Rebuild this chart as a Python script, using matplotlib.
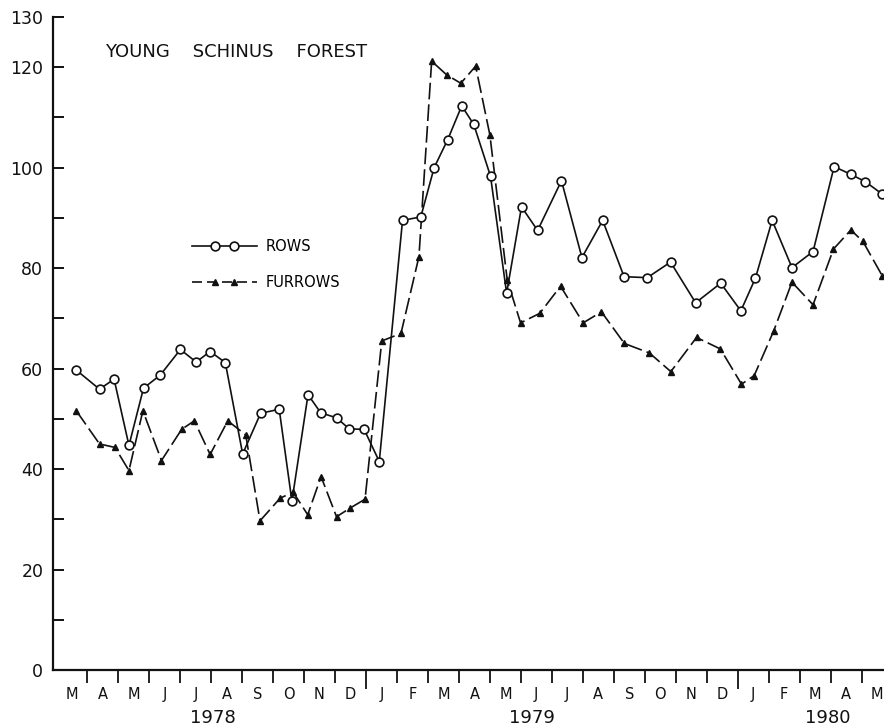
import numpy as np
import matplotlib
matplotlib.use("Agg")
import matplotlib.pyplot as plt
from matplotlib.lines import Line2D
from matplotlib.legend_handler import HandlerLine2D, HandlerTuple

# months counted from 1 March 1978 (0 = start of Mar 1978)
month_labels = ['M', 'A', 'M', 'J', 'J', 'A', 'S', 'O', 'N', 'D',
                'J', 'F', 'M', 'A', 'M', 'J', 'J', 'A', 'S', 'O', 'N', 'D',
                'J', 'F', 'M', 'A', 'M']
years = ['1978', '1979', '1980']
year_pos = [5.05, 15.35, 24.9]
jan_ticks = [10, 22]

rows_t = [0.65, 1.40, 1.87, 2.35, 2.82, 3.36, 4.01, 4.52, 4.97, 5.46,
          6.02, 6.60, 7.20, 7.61, 8.13, 8.54, 9.05, 9.46, 9.94, 10.43,
          11.18, 11.77, 12.20, 12.64, 13.09, 13.48, 14.02, 14.54, 15.02, 15.54,
          16.31, 16.97, 17.64, 18.33, 19.08, 19.83, 20.64, 21.45, 22.10, 22.57,
          23.11, 23.75, 24.43, 25.11, 25.64, 26.12, 26.67]
rows_v = [59.7, 55.9, 57.9, 44.7, 56.1, 58.7, 63.8, 61.3, 63.4, 61.2,
          43.0, 51.1, 51.9, 33.6, 54.8, 51.2, 50.2, 48.0, 47.9, 41.5,
          89.5, 90.2, 100.0, 105.6, 112.3, 108.6, 98.3, 75.0, 92.2, 87.5,
          97.4, 82.1, 89.5, 78.3, 78.1, 81.2, 73.1, 77.0, 71.5, 78.0,
          89.5, 80.1, 83.3, 100.2, 98.7, 97.2, 94.7]

furrows_t = [0.65, 1.40, 1.90, 2.35, 2.80, 3.40, 4.05, 4.46, 4.97, 5.54,
             6.12, 6.58, 7.23, 7.65, 8.12, 8.55, 9.05, 9.48, 9.97,
             10.51, 11.13, 11.71, 12.12, 12.60, 13.06, 13.54, 14.00, 14.56, 14.99,
             15.61, 16.28, 17.01, 17.60, 18.34, 19.15, 19.84, 20.67, 21.44, 22.12,
             22.53, 23.16, 23.75, 24.43, 25.09, 25.65, 26.04, 26.67]
furrows_v = [51.6, 45.0, 44.3, 39.7, 51.6, 41.7, 47.9, 49.6, 42.9, 49.6,
             46.8, 29.7, 34.2, 35.4, 30.9, 38.5, 30.5, 32.2, 34.0,
             65.5, 67.0, 82.3, 121.2, 118.5, 116.8, 120.2, 106.5, 77.6, 69.1,
             71.0, 76.4, 69.1, 71.3, 65.0, 63.1, 59.4, 66.2, 63.9, 56.9,
             58.6, 67.5, 77.2, 72.7, 83.8, 87.6, 85.3, 78.4]

ink = '#111111'
fig = plt.figure(figsize=(8.84, 7.28), dpi=100)
ax = fig.add_axes([0.06, 0.0797, 0.94, 0.897])

ax.plot(rows_t, rows_v, '-', color=ink, lw=1.2, marker='o', ms=6.3,
        mfc='white', mec=ink, mew=1.2, zorder=3)
ax.plot(furrows_t, furrows_v, color=ink, lw=1.2, dashes=(10, 3),
        marker='^', ms=5, mfc=ink, mec=ink, zorder=2)

ax.set_xlim(-0.1, 26.72)
ax.set_ylim(0, 130)

for side in ['top', 'right']:
    ax.spines[side].set_visible(False)
for side in ['left', 'bottom']:
    ax.spines[side].set_linewidth(1.6)
    ax.spines[side].set_color(ink)

# y axis: ticks every 10, inward
ax.set_yticks(np.arange(0, 131, 10))
ax.set_yticklabels(['0', '', '20', '', '40', '', '60', '', '80', '', '100', '', '120', '130'])
ax.tick_params(axis='y', direction='in', length=8, width=1.4, pad=7,
               labelsize=12.5, colors=ink)

# x axis: month boundaries as ticks, month initials centred between them
ax.set_xticks(np.arange(1, 27))
ax.set_xticklabels([])
ax.set_xticks(np.arange(27) + 0.5, minor=True)
ax.set_xticklabels(month_labels, minor=True)
ax.tick_params(axis='x', which='major', direction='out', length=9, width=1.3, colors=ink)
ax.tick_params(axis='x', which='minor', length=0, pad=12, labelsize=10.5, colors=ink)
for tk in ax.xaxis.get_major_ticks():
    if tk.get_loc() in jan_ticks:
        tk.tick1line.set_markersize(14)

for yr, xp in zip(years, year_pos):
    ax.text(xp, -0.073, yr, transform=ax.get_xaxis_transform(), ha='center',
            va='center', fontsize=13, color=ink)

ax.text(1.58, 123.0, 'YOUNG    SCHINUS    FOREST', ha='left', va='center',
        fontsize=13, color=ink)

# legend: full-width line with two markers laid over it
rows_line = Line2D([], [], color=ink, lw=1.2)
rows_mk = Line2D([], [], ls='none', marker='o', ms=6.3, mfc='white', mec=ink, mew=1.2)
furr_line = Line2D([], [], color=ink, lw=1.2, dashes=(6, 3))
furr_mk = Line2D([], [], ls='none', marker='^', ms=5, mfc=ink, mec=ink)
hmap = {tuple: HandlerTuple(ndivide=1, pad=0),
        rows_line: HandlerLine2D(numpoints=2, marker_pad=0),
        furr_line: HandlerLine2D(numpoints=2, marker_pad=0),
        rows_mk: HandlerLine2D(numpoints=2, marker_pad=1.6),
        furr_mk: HandlerLine2D(numpoints=2, marker_pad=1.6)}
ax.legend([(rows_line, rows_mk), (furr_line, furr_mk)], ['ROWS', 'FURROWS'],
          handler_map=hmap, loc='upper left', bbox_to_anchor=(0.167, 0.66),
          frameon=False, borderpad=0, borderaxespad=0, handlelength=4.5,
          handletextpad=0.55, labelspacing=1.45, prop={'size': 10.5})

fig.savefig('out.png', dpi=100)
